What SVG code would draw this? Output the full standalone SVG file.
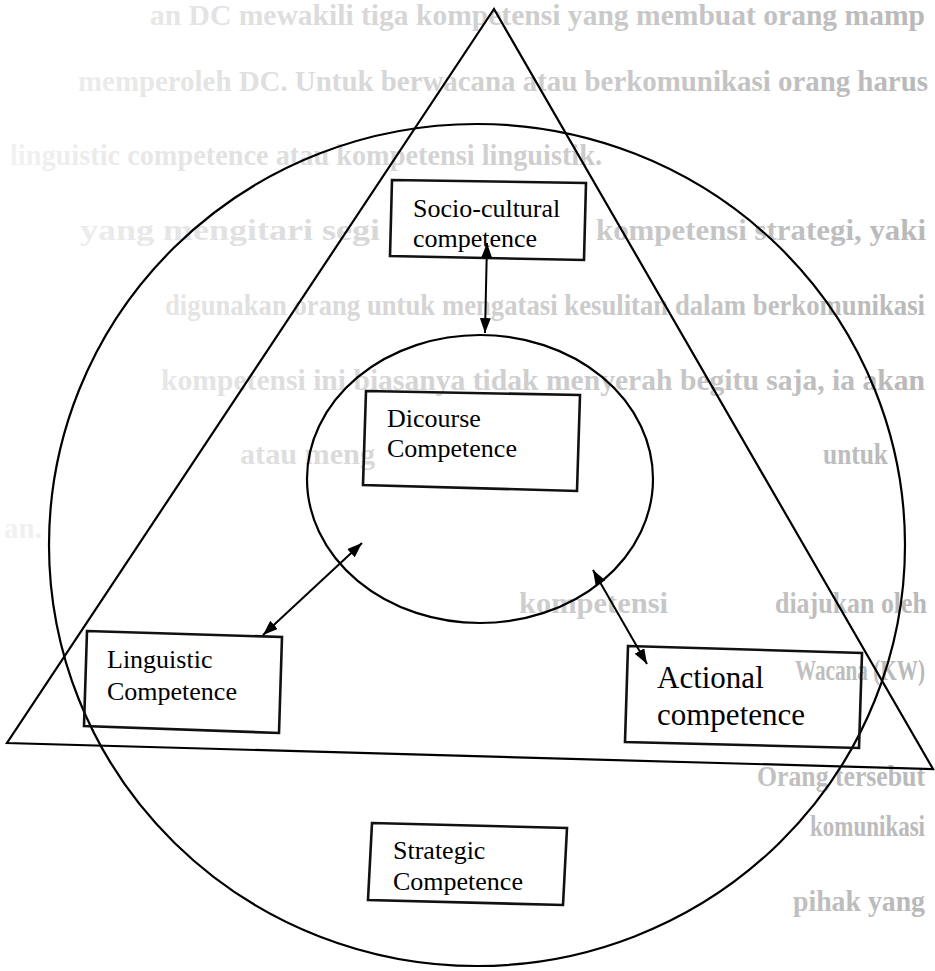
<svg xmlns="http://www.w3.org/2000/svg" width="935" height="971" viewBox="0 0 935 971">
<style>
.ghost{font-family:"Liberation Serif","Times New Roman",serif;font-weight:bold;font-size:29px;fill:url(#ghostFill)}
.shape{fill:none;stroke:#000;stroke-width:2.2}
.box{fill:none;stroke:#111;stroke-width:2.6}
.lbl{font-family:"Liberation Serif","Times New Roman",serif;font-size:26px;fill:#000}
.big{font-size:31px}
.conn{fill:none;stroke:#000;stroke-width:2}
</style>
<defs>
<linearGradient id="ghostFill" gradientUnits="userSpaceOnUse" x1="0" y1="0" x2="935" y2="0">
<stop offset="0" stop-color="#f2f2f2"/>
<stop offset="0.45" stop-color="#d4d4d4"/>
<stop offset="1" stop-color="#b8b8b8"/>
</linearGradient>
<marker id="ah" viewBox="0 0 15 11" refX="15" refY="5.5" markerWidth="15" markerHeight="11" markerUnits="userSpaceOnUse" orient="auto-start-reverse">
<path d="M0,0 L15,5.5 L0,11 Z" fill="#000"/>
</marker>
</defs>
<rect width="935" height="971" fill="#fff"/>
<g id="background-text">
<text class="ghost" x="150" y="25" textLength="775" lengthAdjust="spacingAndGlyphs">an DC mewakili tiga kompetensi yang membuat orang mamp</text>
<text class="ghost" x="78" y="91" textLength="850" lengthAdjust="spacingAndGlyphs">memperoleh DC. Untuk berwacana atau berkomunikasi orang harus</text>
<text class="ghost" x="10" y="165" textLength="592" lengthAdjust="spacingAndGlyphs">linguistic competence atau kompetensi linguistik.</text>
<text class="ghost" x="80" y="240" textLength="300" lengthAdjust="spacingAndGlyphs">yang mengitari segi</text>
<text class="ghost" x="596" y="240" textLength="330" lengthAdjust="spacingAndGlyphs">kompetensi strategi, yaki</text>
<text class="ghost" x="165" y="315" textLength="760" lengthAdjust="spacingAndGlyphs">digunakan orang untuk mengatasi kesulitan dalam berkomunikasi</text>
<text class="ghost" x="161" y="390" textLength="764" lengthAdjust="spacingAndGlyphs">kompetensi ini biasanya tidak menyerah begitu saja, ia akan</text>
<text class="ghost" x="240" y="464" textLength="135" lengthAdjust="spacingAndGlyphs">atau meng</text>
<text class="ghost" x="823" y="464" textLength="65" lengthAdjust="spacingAndGlyphs">untuk</text>
<text class="ghost" x="4" y="538">an.</text>
<text class="ghost" x="519" y="613" textLength="149" lengthAdjust="spacingAndGlyphs">kompetensi</text>
<text class="ghost" x="775" y="613" textLength="152" lengthAdjust="spacingAndGlyphs">diajukan oleh</text>
<text class="ghost" x="795" y="680" textLength="130" lengthAdjust="spacingAndGlyphs">Wacana (KW)</text>
<text class="ghost" x="757" y="786" textLength="168" lengthAdjust="spacingAndGlyphs">Orang tersebut</text>
<text class="ghost" x="810" y="836" textLength="115" lengthAdjust="spacingAndGlyphs">komunikasi</text>
<text class="ghost" x="793" y="911" textLength="132" lengthAdjust="spacingAndGlyphs">pihak yang</text>
</g>
<g id="strategic-circle">
<ellipse class="shape" cx="477" cy="545" rx="428" ry="421"/>
</g>
<g id="triangle">
<polygon class="shape" points="494,9 933,769 7,743"/>
</g>
<g id="discourse-circle">
<ellipse class="shape" cx="480" cy="479" rx="173" ry="144"/>
</g>
<g id="socio-cultural">
<polygon class="box" points="392,180 586,183 584,260 390,256"/>
<text class="lbl" x="413" y="217">Socio-cultural</text>
<text class="lbl" x="413" y="247">competence</text>
</g>
<g id="discourse">
<polygon class="box" points="366,391 580,395 577,491 363,485"/>
<text class="lbl" x="387" y="427">Dicourse</text>
<text class="lbl" x="387" y="457">Competence</text>
</g>
<g id="linguistic">
<polygon class="box" points="87,631 282,637 279,733 84,726"/>
<text class="lbl" x="107" y="668">Linguistic</text>
<text class="lbl" x="107" y="700">Competence</text>
</g>
<g id="actional">
<polygon class="box" points="628,646 862,653 859,748 625,742"/>
<text class="lbl big" x="657" y="688">Actional</text>
<text class="lbl big" x="657" y="725">competence</text>
</g>
<g id="strategic">
<polygon class="box" points="372,823 567,828 563,905 368,900"/>
<text class="lbl" x="393" y="859">Strategic</text>
<text class="lbl" x="393" y="890">Competence</text>
</g>
<g id="connectors">
<line class="conn" x1="487" y1="243" x2="485" y2="333" marker-start="url(#ah)" marker-end="url(#ah)"/>
<line class="conn" x1="362" y1="543" x2="263" y2="635" marker-start="url(#ah)" marker-end="url(#ah)"/>
<line class="conn" x1="593" y1="570" x2="647" y2="664" marker-start="url(#ah)" marker-end="url(#ah)"/>
</g>
</svg>
